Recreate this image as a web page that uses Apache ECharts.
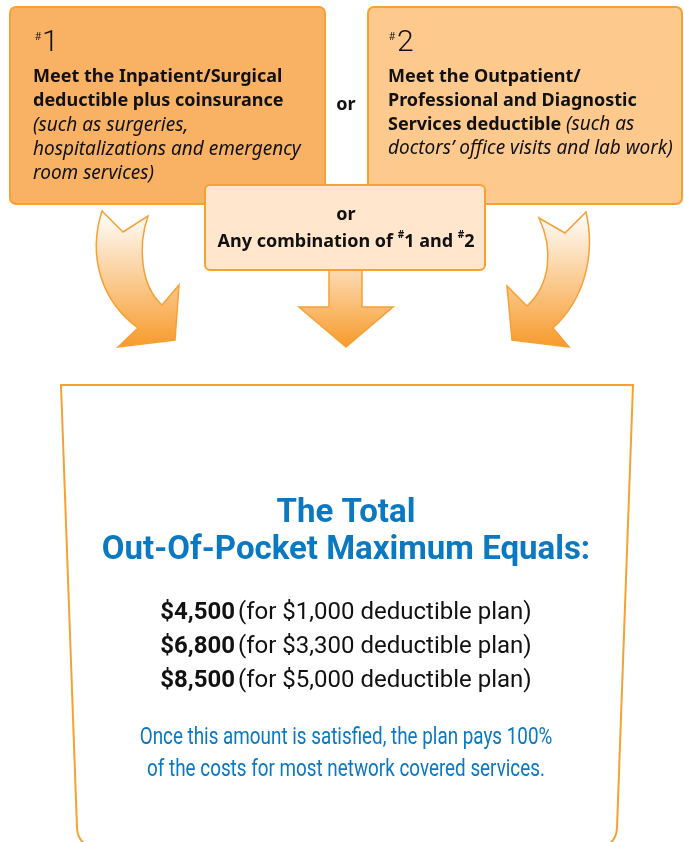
<!doctype html>
<html lang="en">
<head>
    <meta charset="UTF-8">
    <title>Out-Of-Pocket Maximum</title>
    <script src="https://cdn.jsdelivr.net/npm/echarts@6.0.0/dist/echarts.min.js"></script>
    <style>
        html, body { margin: 0; padding: 0; background: #fff; }
        #chart { width: 684px; height: 842px; }
    </style>
</head>
<body>
<div id="chart"></div>
<script>
    // text content
    const box1Head = ['Meet the Inpatient/Surgical', 'deductible plus coinsurance'];
    const box1Note = ['(such as surgeries,', 'hospitalizations and emergency', 'room services)'];
    // [bold part, italic part]
    const box2Lines = [
        ['Meet the Outpatient/', ''],
        ['Professional and Diagnostic', ''],
        ['Services deductible ', '(such as'],
        ['', 'doctors\u2019 office visits and lab work)']
    ];
    const titleLines = ['The Total', 'Out-Of-Pocket Maximum Equals:'];
    const maxAmounts = ['$4,500', '$6,800', '$8,500'];
    const deductibles = ['$1,000', '$3,300', '$5,000'];
    const footLines = [
        'Once this amount is satisfied, the plan pays 100%',
        'of the costs for most network covered services.'
    ];

    const ORANGE = '#F7A033';
    const BLUE = '#0B78C2';
    const INK = '#111111';
    const FONT = 'Roboto, "Noto Sans", sans-serif';
    const TOPFONT = '"Noto Sans", "Open Sans", sans-serif';

    // arrow outlines and the cup as custom shapes
    echarts.graphic.registerShape('arrowLeft', echarts.graphic.extendPath(
        'M102,211 L123,232 L148,216 C138,245 140,285 162,305 L179,285 L175,340 L118,347 L138,328 C100,300 88,255 102,211 Z', {}));
    echarts.graphic.registerShape('arrowRight', echarts.graphic.extendPath(
        'M539,218 L565,233 L586,212 C596,255 584,300 553,328 L569,347 L512,340 L507,286 L527,306 C550,285 554,250 539,218 Z', {}));
    echarts.graphic.registerShape('arrowDown', echarts.graphic.extendPath(
        'M329,262 L362,262 L362,307 L393,307 L346,347 L299,307 L329,307 Z', {}));
    echarts.graphic.registerShape('cup', echarts.graphic.extendPath(
        'M61,385 L633,385 L617,828 Q616,844 602,846 L92,846 Q78,844 77,828 Z', {}));

    const arrowFill = {
        type: 'linear', x: 0, y: 0, x2: 0, y2: 1,
        colorStops: [{offset: 0, color: '#FFFFFF'}, {offset: 1, color: '#F79A2A'}]
    };

    function line(x, y, text, size, weight, style, font) {
        return {
            type: 'text', x: x, y: y,
            style: {
                text: text, fontSize: size, fontWeight: weight, fontStyle: style || 'normal',
                fontFamily: font || TOPFONT, fill: INK, verticalAlign: 'middle'
            }
        };
    }

    function centered(y, text, sx, style, rich) {
        return {
            type: 'group', x: 346, y: y, scaleX: sx,
            children: [{
                type: 'text',
                style: Object.assign({
                    text: text, align: 'center', verticalAlign: 'middle', fontFamily: FONT, rich: rich
                }, style)
            }]
        };
    }

    const els = [];

    // box 1
    els.push({type: 'rect', shape: {x: 10, y: 7, width: 315, height: 197, r: 6},
        style: {fill: '#F9B263', stroke: ORANGE, lineWidth: 2}});
    els.push(line(35, 37, '#', 10, 'normal'));
    els.push(line(42, 43, '1', 30, 300, 'normal', FONT));
    box1Head.forEach((t, i) => els.push(line(33, 77 + i * 24, t, 18, 'bold')));
    box1Note.forEach((t, i) => els.push(line(33, 126 + i * 24, t, 19, 'normal', 'italic')));

    // box 2
    els.push({type: 'rect', shape: {x: 368, y: 7, width: 314, height: 197, r: 6},
        style: {fill: '#FEC98D', stroke: ORANGE, lineWidth: 2}});
    els.push(line(389, 37, '#', 10, 'normal'));
    els.push(line(397, 43, '2', 30, 300, 'normal', FONT));
    box2Lines.forEach((seg, i) => {
        els.push({
            type: 'text', x: 388, y: 77 + i * 24,
            style: {
                text: (seg[0] ? '{b|' + seg[0] + '}' : '') + (seg[1] ? '{i|' + seg[1] + '}' : ''),
                verticalAlign: 'middle', fontFamily: TOPFONT,
                rich: {
                    b: {fontSize: 18, fontWeight: 'bold', fontFamily: TOPFONT, fill: INK},
                    i: {fontSize: 19, fontStyle: 'italic', fontFamily: TOPFONT, fill: INK}
                }
            }
        });
    });

    // "or" between boxes
    els.push(centered(105, 'or', 1, {fontSize: 18, fontWeight: 'bold', fontFamily: TOPFONT, fill: INK}));

    // arrows
    els.push({type: 'arrowLeft', style: {fill: arrowFill, stroke: ORANGE, lineWidth: 1.5}});
    els.push({type: 'arrowRight', style: {fill: arrowFill, stroke: ORANGE, lineWidth: 1.5}});
    els.push({type: 'arrowDown', style: {fill: {
            type: 'linear', x: 0, y: 0, x2: 0, y2: 1,
            colorStops: [{offset: 0, color: '#FEE2C2'}, {offset: 1, color: '#F79A2A'}]
        }, stroke: ORANGE, lineWidth: 1.5}});

    // middle box
    els.push({type: 'rect', shape: {x: 205, y: 185, width: 280, height: 85, r: 5},
        style: {fill: '#FFE6CC', stroke: ORANGE, lineWidth: 2}});
    els.push(centered(215, 'or', 1, {fontSize: 18, fontWeight: 'bold', fontFamily: TOPFONT, fill: INK}));
    els.push(centered(242, '{n|Any combination of }{s|#}{n|1 and }{s|#}{n|2}', 1, {}, {
        n: {fontSize: 18, fontWeight: 'bold', fontFamily: TOPFONT, fill: INK, lineHeight: 24},
        s: {fontSize: 10, fontWeight: 'bold', fontFamily: TOPFONT, fill: INK, lineHeight: 24, verticalAlign: 'top'}
    }));

    // bottom cup
    els.push({type: 'cup', style: {fill: '#FFFFFF', stroke: ORANGE, lineWidth: 2}});

    titleLines.forEach((t, i) => {
        els.push(centered(514 + i * 37, t, 1, {fontSize: 33, fontWeight: 'bold', fill: BLUE}));
    });
    maxAmounts.forEach((amt, i) => {
        els.push(centered(613 + i * 34, '{b|' + amt + '} {n|(for ' + deductibles[i] + ' deductible plan)}', 1, {}, {
            b: {fontSize: 24, fontWeight: 'bold', fontFamily: FONT, fill: INK},
            n: {fontSize: 24, fontFamily: FONT, fill: INK}
        }));
    });
    footLines.forEach((t, i) => {
        els.push(centered(738 + i * 32, t, 0.785, {fontSize: 24, fill: BLUE}));
    });

    const myChart = echarts.init(document.getElementById('chart'), null, {renderer: 'canvas'});
    myChart.setOption({
        animation: false,
        backgroundColor: '#fff',
        graphic: {elements: els}
    });
</script>
</body>
</html>
